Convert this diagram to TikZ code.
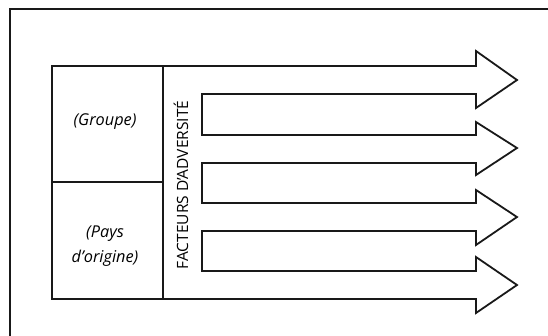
\documentclass[tikz,border=0pt]{standalone}
\usepackage{fontspec}
\setmainfont{Open Sans}
\begin{document}
\begin{tikzpicture}[x=1pt,y=-1pt,
  line/.style={draw=black!90,line width=1.8pt,line join=miter},
  lbl/.style={font=\fontsize{16.3}{25}\selectfont\itshape,align=center,inner sep=0pt},
  vlbl/.style={font=\fontsize{15.5}{16}\selectfont,rotate=90,inner sep=0pt}]
\useasboundingbox (0,0) rectangle (548,335);
\begin{scope}
\clip (0,0) rectangle (548,335);
\draw[line] (10,9) rectangle (570,360);
\end{scope}
% arrows outline
\draw[line] (52,66) -- (476,66) -- (476,51) -- (517,80) -- (476,108) -- (476,94)
  -- (202,94) -- (202,135) -- (476,135) -- (476,122) -- (517,148) -- (476,175) -- (476,163)
  -- (202,163) -- (202,203) -- (476,203) -- (476,190) -- (517,217) -- (476,245) -- (476,231)
  -- (202,231) -- (202,271) -- (476,271) -- (476,257) -- (517,285) -- (476,313) -- (476,299)
  -- (52,299) -- cycle;
\draw[line] (163,66) -- (163,299);
\draw[line] (52,182) -- (163,182);
\node[lbl] (g) at (105,122) {(Groupe)};
\node[lbl] (p) at (105,246) {(Pays\\d'origine)};
\node[vlbl] (f) at (181,185) {FACTEURS D'ADVERSITÉ};
\end{tikzpicture}
\end{document}
